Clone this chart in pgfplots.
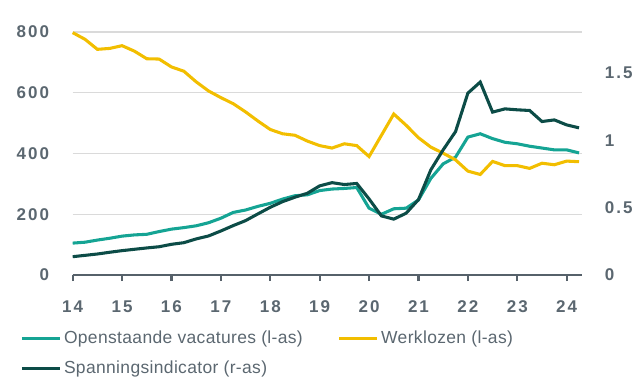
\documentclass[border=0pt]{standalone}
\usepackage{pgfplots}
\pgfplotsset{compat=1.18}
\usepackage{fontspec}
\setmainfont{Liberation Sans}
\newfontfamily\tickfont[LetterSpace=12]{Liberation Sans}
\newfontfamily\legfont[LetterSpace=2]{Liberation Sans}
\definecolor{teal1}{HTML}{15A494}
\definecolor{gold1}{HTML}{F2BE00}
\definecolor{dark1}{HTML}{0C4C47}
\definecolor{txtgray}{HTML}{5B6770}
\definecolor{gridgray}{HTML}{DADADA}
\definecolor{axgray}{HTML}{56616A}

\pgfplotstableread{
x vac werk span
14.00 105 798 0.136
14.25 108 776 0.146
14.50 115 743 0.156
14.75 121 746 0.169
15.00 128 755 0.181
15.25 132 737 0.191
15.50 134 712 0.201
15.75 143 711 0.210
16.00 151 685 0.228
16.25 156 671 0.240
16.50 162 636 0.268
16.75 172 606 0.290
17.00 187 584 0.327
17.25 206 564 0.367
17.50 214 537 0.404
17.75 226 507 0.454
18.00 236 479 0.503
18.25 250 465 0.545
18.50 261 460 0.578
18.75 264 441 0.607
19.00 278 426 0.662
19.25 283 418 0.686
19.50 285 432 0.672
19.75 288 426 0.680
20.00 220 390 0.565
20.25 200 460 0.439
20.50 218 530 0.415
20.75 220 493 0.459
21.00 247 452 0.560
21.25 318 421 0.781
21.50 366 401 0.930
21.75 388 379 1.065
22.00 454 342 1.351
22.25 465 331 1.433
22.50 449 374 1.210
22.75 437 360 1.234
23.00 432 360 1.227
23.25 424 351 1.222
23.50 418 368 1.140
23.75 412 363 1.152
24.00 412 375 1.115
24.25 402 373 1.093
}\datatable

\pgfplotsset{
  common/.style={
    at={(54.5pt,78.75pt)}, anchor=south west,
    scale only axis, width=382pt, height=182.25pt,
    xmin=14, xmax=24.31, clip=false,
    /pgf/number format/assume math mode=true,
    tick label style={font=\tickfont\bfseries\fontsize{12.75}{15}\selectfont, text=txtgray},
  },
}

\begin{document}
\begin{tikzpicture}
\useasboundingbox (0,0) rectangle (480pt,285pt);
\begin{axis}[common,
  ymin=0, ymax=800,
  axis x line*=bottom, axis y line*=left,
  y axis line style={draw=none},
  x axis line style={draw=axgray, line width=2.2pt},
  xtick={14,...,24},
  xticklabels={14,15,16,17,18,19,20,21,22,23,24},
  tick align=outside,
  major tick length=4.5pt,
  xtick style={draw=axgray, line width=1.6pt},
  ytick={0,200,400,600,800},
  ytick style={draw=none},
  ymajorgrids, grid style={draw=gridgray, line width=1.1pt},
  yticklabel style={anchor=east, inner sep=0pt, xshift=-13pt},
  xticklabel style={anchor=center, inner sep=0pt, yshift=-19.25pt},
  legend columns=2,
  legend cell align=left,
  legend image code/.code={\draw[#1, line width=2.3pt] (0pt,0pt) -- (28.5pt,0pt);},
  legend style={at={(axis description cs:-0.1034,-0.219)}, anchor=north west,
    draw=none, fill=none, inner sep=0pt, row sep=7.5pt,
    font=\legfont\fontsize{13.1}{15}\selectfont, text=txtgray,
    nodes={inner sep=2pt},
    /tikz/every even column/.append style={column sep=24pt}},
]
\addplot[teal1, line width=2.3pt] table[x=x, y=vac] {\datatable};
\addlegendentry{Openstaande vacatures (l-as)}
\addplot[gold1, line width=2.3pt] table[x=x, y=werk] {\datatable};
\addlegendentry{Werklozen (l-as)}
\addlegendimage{dark1, line width=2.3pt}
\addlegendentry{Spanningsindicator (r-as)}
\end{axis}
\begin{axis}[common,
  ymin=0, ymax=1.805,
  axis x line=none, axis y line*=right,
  y axis line style={draw=none},
  ytick={0,0.5,1,1.5},
  ytick style={draw=none},
  yticklabel style={anchor=west, inner sep=0pt, xshift=17pt},
]
\addplot[dark1, line width=2.3pt] table[x=x, y=span] {\datatable};
\end{axis}
\end{tikzpicture}
\end{document}
